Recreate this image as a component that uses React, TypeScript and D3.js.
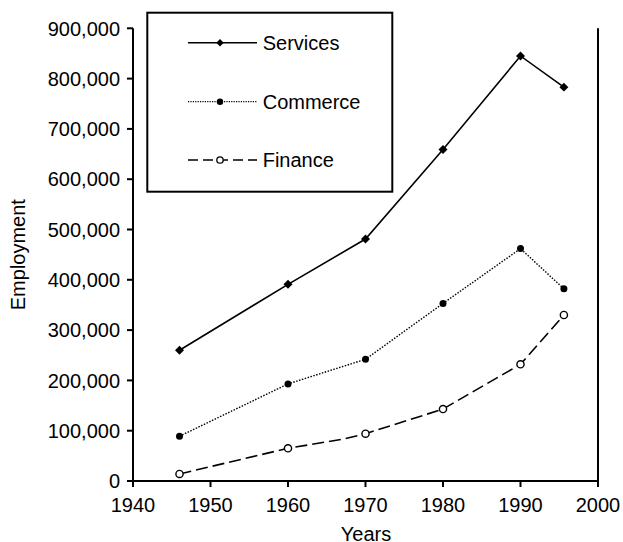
import React from "react";
import * as d3 from "d3";

const W = 623;
const H = 542;

const xTicks = [1940, 1950, 1960, 1970, 1980, 1990, 2000];
const yTicks = [0, 100000, 200000, 300000, 400000, 500000, 600000, 700000, 800000, 900000];

const servicesYears = [1946, 1960, 1970, 1980, 1990, 1995.6];
const servicesValues = [260000, 391000, 481000, 659000, 845000, 783000];

const commerceYears = [1946, 1960, 1970, 1980, 1990, 1995.6];
const commerceValues = [89000, 193000, 242000, 353000, 462000, 382000];

const financeYears = [1946, 1960, 1967, 1970, 1980, 1990, 1995.6];
const financeValues = [14000, 65000, 83000, 94000, 143000, 232000, 330000];
const financeMarkerYears = [1946, 1960, 1970, 1980, 1990, 1995.6];

const legendNames = ["Services", "Commerce", "Finance"];

const FONT = "'Liberation Sans', Arial, Helvetica, sans-serif";

export default function App() {
  const left = 133;
  const right = 598;
  const top = 28.3;
  const bottom = 481;

  const x = d3.scaleLinear().domain([1940, 2000]).range([left, right]);
  const y = d3.scaleLinear().domain([0, 900000]).range([bottom, top]);

  const line = d3
    .line<[number, number]>()
    .x((d) => x(d[0]))
    .y((d) => y(d[1]));

  const sPts: [number, number][] = servicesYears.map((yr, i) => [yr, servicesValues[i]]);
  const cPts: [number, number][] = commerceYears.map((yr, i) => [yr, commerceValues[i]]);
  const fPts: [number, number][] = financeYears.map((yr, i) => [yr, financeValues[i]]);
  const fMarks: [number, number][] = fPts.filter((p) => financeMarkerYears.includes(p[0]));

  const diamond = d3.symbol(d3.symbolSquare, 40)() as string;
  const diamondSmall = d3.symbol(d3.symbolSquare, 28)() as string;
  const fmt = d3.format(",");

  const legendY = [42.7, 101.7, 160];
  const legX1 = 188;
  const legX2 = 257;
  const legMid = 220;

  return (
    <svg
      width={W}
      height={H}
      style={{ position: "absolute", left: 0, top: 0, background: "#fff" }}
      fontFamily={FONT}
    >
      <rect x={0} y={0} width={W} height={H} fill="#fff" />

      {/* Series lines */}
      <path d={line(sPts) || ""} fill="none" stroke="#000" strokeWidth={1.6} />
      <path d={line(cPts) || ""} fill="none" stroke="#000" strokeWidth={1.4} strokeDasharray="1.5,1.5" />
      <path d={line(fPts) || ""} fill="none" stroke="#000" strokeWidth={1.6} strokeDasharray="12,5" />

      {/* Markers */}
      {sPts.map((p, i) => (
        <path key={"s" + i} d={diamond} transform={`translate(${x(p[0])},${y(p[1])}) rotate(45)`} fill="#000" />
      ))}
      {cPts.map((p, i) => (
        <circle key={"c" + i} cx={x(p[0])} cy={y(p[1])} r={3.5} fill="#000" />
      ))}
      {fMarks.map((p, i) => (
        <circle key={"f" + i} cx={x(p[0])} cy={y(p[1])} r={3.6} fill="#fff" stroke="#000" strokeWidth={1.4} />
      ))}

      {/* Axes */}
      <line x1={left} x2={left} y1={top} y2={bottom} stroke="#000" strokeWidth={2} />
      <line x1={left} x2={right} y1={bottom} y2={bottom} stroke="#000" strokeWidth={2} />
      <line x1={right} x2={right} y1={top} y2={bottom} stroke="#000" strokeWidth={2} />

      {yTicks.map((t) => (
        <g key={"yt" + t}>
          <line x1={left - 6} x2={left} y1={y(t)} y2={y(t)} stroke="#000" strokeWidth={2} />
          <text x={120} y={y(t)} dy="0.36em" textAnchor="end" fontSize={20} fill="#000">
            {fmt(t)}
          </text>
        </g>
      ))}
      {xTicks.map((t) => (
        <g key={"xt" + t}>
          <line x1={x(t)} x2={x(t)} y1={bottom} y2={bottom + 6} stroke="#000" strokeWidth={2} />
          <text x={x(t)} y={511.5} textAnchor="middle" fontSize={20} fill="#000">
            {t}
          </text>
        </g>
      ))}

      <text x={366} y={541} textAnchor="middle" fontSize={20} fill="#000">
        Years
      </text>
      <text
        transform={`translate(24.5,${(top + bottom) / 2}) rotate(-90)`}
        textAnchor="middle"
        fontSize={20}
        fill="#000"
      >
        Employment
      </text>

      {/* Legend */}
      <rect x={147.3} y={12.7} width={245} height={179} fill="#fff" stroke="#000" strokeWidth={2} />
      <line x1={legX1} x2={legX2} y1={legendY[0]} y2={legendY[0]} stroke="#000" strokeWidth={1.6} />
      <path d={diamondSmall} transform={`translate(${legMid},${legendY[0]}) rotate(45)`} fill="#000" />
      <line x1={legX1} x2={legX2} y1={legendY[1]} y2={legendY[1]} stroke="#000" strokeWidth={1.2} strokeDasharray="1.2,1.2" />
      <circle cx={legMid} cy={legendY[1]} r={3.2} fill="#000" />
      <line x1={legX1} x2={legX2} y1={legendY[2]} y2={legendY[2]} stroke="#000" strokeWidth={1.6} strokeDasharray="10,5" />
      <circle cx={legMid} cy={legendY[2]} r={3.2} fill="#fff" stroke="#000" strokeWidth={1.3} />
      {legendNames.map((n, i) => (
        <text key={n} x={262.7} y={legendY[i]} dy="0.36em" fontSize={20} fill="#000">
          {n}
        </text>
      ))}
    </svg>
  );
}
